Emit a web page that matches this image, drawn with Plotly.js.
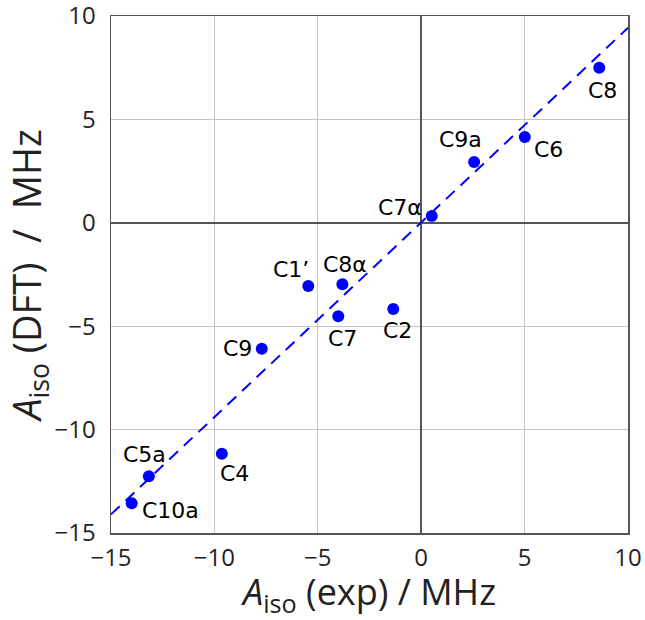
<!DOCTYPE html>
<html>
<head>
<meta charset="utf-8">
<script src="https://cdn.plot.ly/plotly-3.0.1.min.js"></script>
<style>html,body{margin:0;padding:0;background:#fff;}#chart{width:645px;height:620px;}</style>
</head>
<body>
<div id="chart"></div>
<script>
// Data
const labels = ["C8", "C6", "C9a", "C7\u03b1", "C1\u2019", "C8\u03b1", "C7", "C2", "C9", "C4", "C5a", "C10a"];
const aisoExp = [8.61, 5.01, 2.56, 0.51, -5.46, -3.81, -4.01, -1.35, -7.71, -9.64, -13.17, -14.0];
const aisoDFT = [7.50, 4.15, 2.94, 0.33, -3.06, -2.97, -4.52, -4.17, -6.09, -11.17, -12.26, -13.56];
const fitX = [-15, 10];
const fitY = [-14.1, 9.43];
const tickVals = [-15, -10, -5, 0, 5, 10];
const tickText = ["\u221215", "\u221210", "\u22125", "0", "5", "10"];

// Label offsets (pixels) – style only
const labelShift = {
  "C8": [3, -23], "C6": [24, -13], "C9a": [-14, 23], "C7\u03b1": [-32, 8],
  "C1\u2019": [-17, 17], "C8\u03b1": [3, 20], "C7": [4, -22], "C2": [4, -21],
  "C9": [-24, 0], "C4": [13, -20], "C5a": [-4, 22], "C10a": [39, -7]
};

const blue = "#0000ff";
const annotations = labels.map((t, i) => ({
  x: aisoExp[i], y: aisoDFT[i], xref: "x", yref: "y",
  text: t, showarrow: false,
  xshift: labelShift[t][0], yshift: labelShift[t][1],
  font: {family: "DejaVu Sans, sans-serif", size: 22, color: "#000"}
}));

const traces = [
  {x: fitX, y: fitY, mode: "lines", type: "scatter",
   line: {color: blue, width: 2, dash: "12px,8px"}, hoverinfo: "skip"},
  {x: aisoExp, y: aisoDFT, mode: "markers", type: "scatter",
   marker: {color: blue, size: 12}}
];

const axisCommon = {
  range: [-15, 10], tickvals: tickVals, ticktext: tickText,
  showgrid: true, gridcolor: "#c4c4c4", gridwidth: 1,
  zeroline: true, zerolinecolor: "#555555", zerolinewidth: 1.5,
  showline: true, linecolor: "#555555", linewidth: 1.5, mirror: true,
  ticks: "", tickfont: {family: "Open Sans, sans-serif", size: 24, color: "#222"},
  ticklabeloverflow: "allow",
  fixedrange: true
};

const layout = {
  width: 645, height: 620,
  margin: {l: 111, r: 17, t: 16, b: 87},
  paper_bgcolor: "#fff", plot_bgcolor: "#fff",
  showlegend: false,
  xaxis: Object.assign({}, axisCommon, {
    ticklabelstandoff: 3,
    title: {text: "<i>A</i><sub>iso</sub> (exp)&nbsp;/&nbsp;MHz", font: {family: "Open Sans, sans-serif", size: 36, color: "#222"}, standoff: 8}
  }),
  yaxis: Object.assign({}, axisCommon, {
    ticklabelstandoff: 9,
    title: {text: "<i>A</i><sub>iso</sub> (DFT)&nbsp;&nbsp;/&nbsp;&nbsp;MHz", font: {family: "Open Sans, sans-serif", size: 38, color: "#222"}, standoff: 0}
  }),
  annotations: annotations
};

Plotly.newPlot("chart", traces, layout, {staticPlot: true});
</script>
</body>
</html>
